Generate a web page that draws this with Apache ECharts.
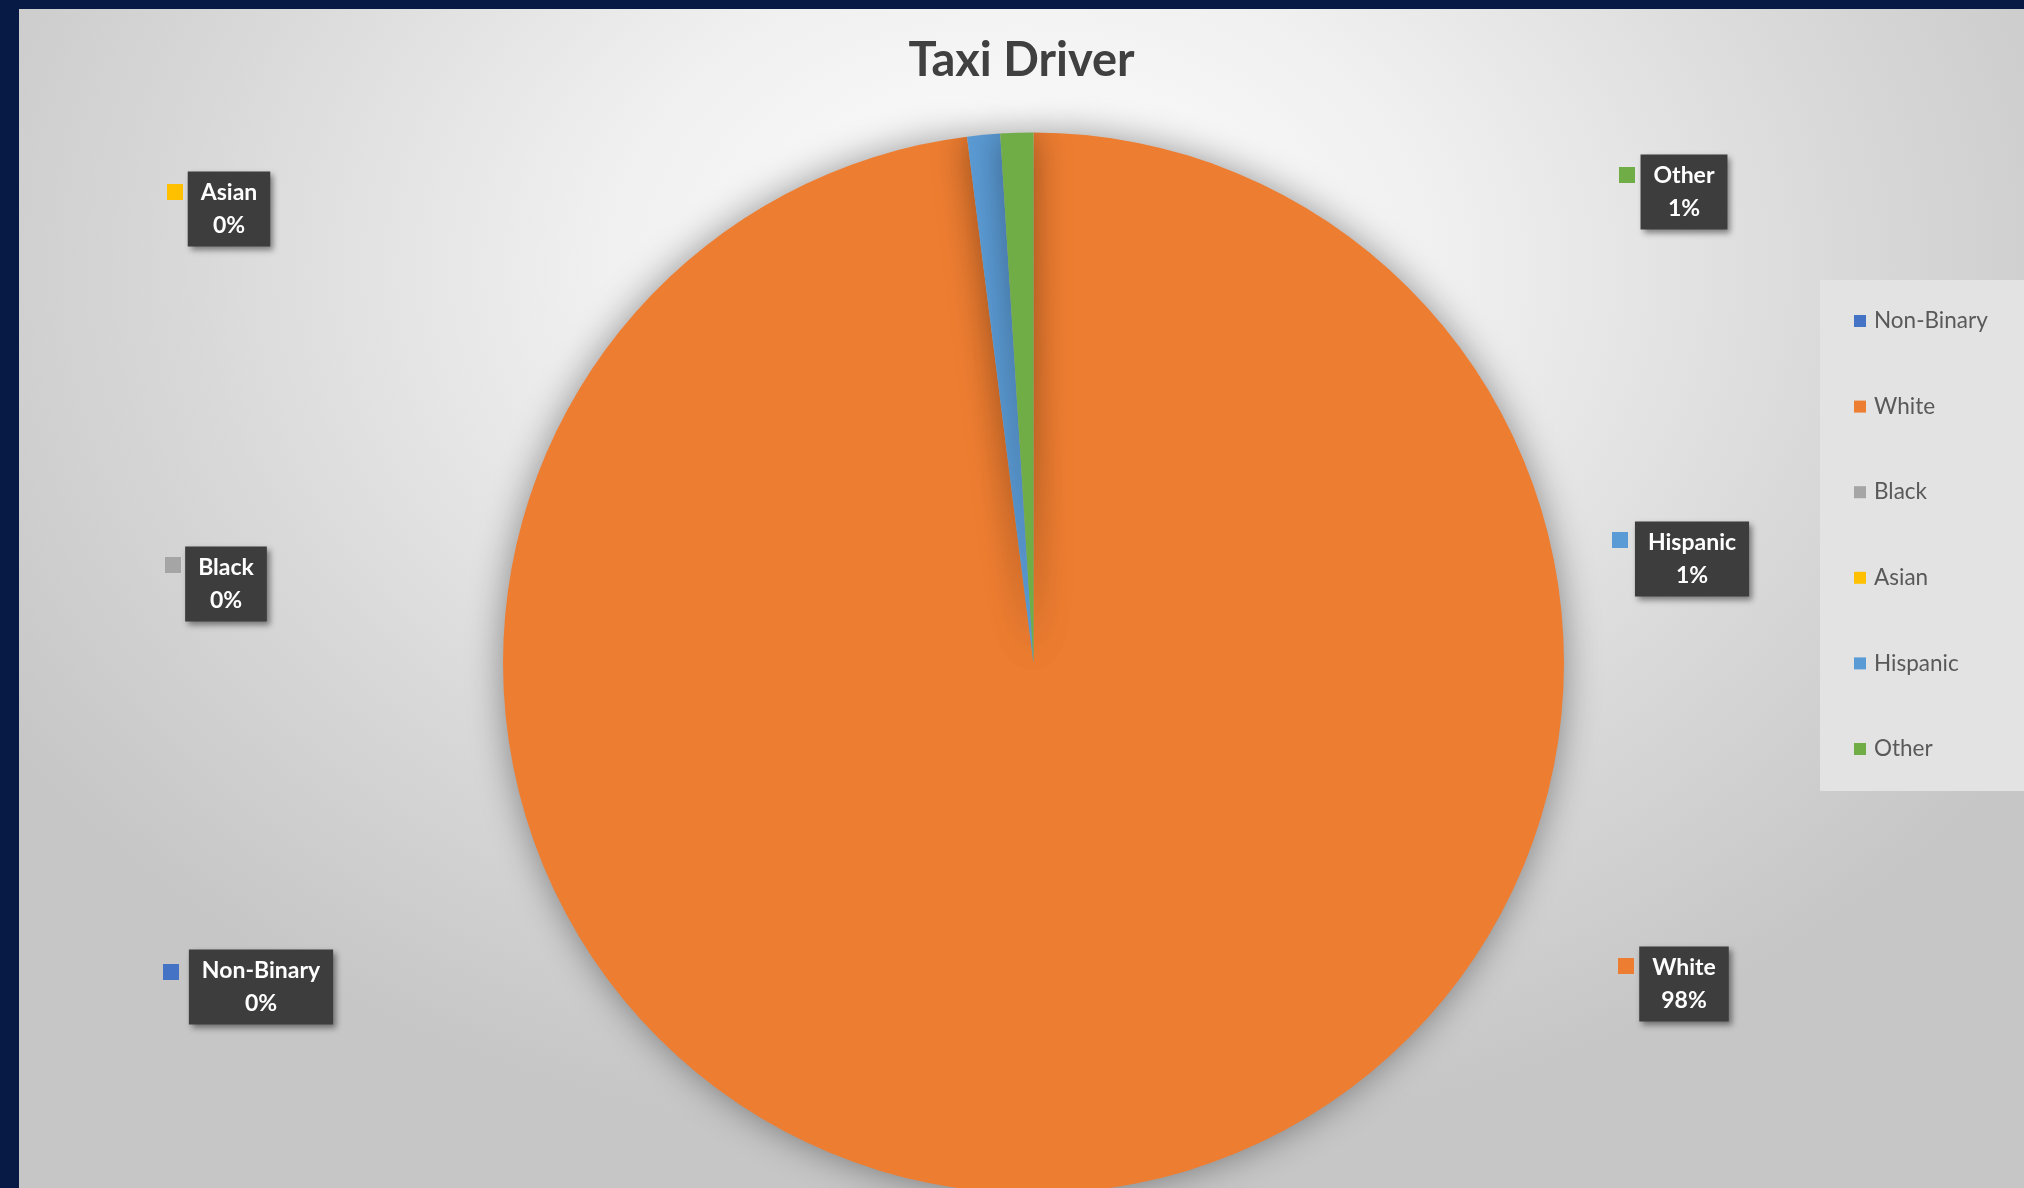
<!DOCTYPE html>
<html>
<head>
<meta charset="utf-8">
<script src="https://cdn.jsdelivr.net/npm/echarts@6/dist/echarts.min.js"></script>
<style>
  html, body { margin: 0; padding: 0; background: #071a45; }
  #chart {
    position: absolute; left: 19px; top: 9px; width: 2005px; height: 1179px;
    background: radial-gradient(ellipse 60% 75% at 50% 22%, #ffffff 0%, #f0f0f0 35%, #d8d8d8 70%, #c6c6c6 100%);
  }
</style>
</head>
<body>
<div id="chart"></div>
<script>
// data
const categories = ['Non-Binary', 'White', 'Black', 'Asian', 'Hispanic', 'Other'];
const values = [0, 98, 0, 0, 1, 1];
const palette = ['#4472C4', '#ED7D31', '#A5A5A5', '#FFC000', '#5B9BD5', '#70AD47'];

// label box centres and the little colour keys next to them (chart px)
const boxPos = [[242, 978], [1665, 975], [207, 575], [210, 200], [1673, 550], [1665, 183]];
const keyPos = [[152, 963], [1607, 957], [154, 556], [156, 183], [1601, 531], [1608, 166]];

const chart = echarts.init(document.getElementById('chart'));

const pieData = categories.map((name, i) => ({name, value: values[i]}));
const keyRich = {};
palette.forEach((c, i) => { keyRich['k' + i] = {width: 16, height: 16, backgroundColor: c}; });

chart.setOption({
  animation: false,
  color: palette,
  title: {
    text: 'Taxi Driver',
    left: 'center',
    top: 23,
    textStyle: {fontFamily: 'Lato', fontWeight: 'bold', fontSize: 47, color: '#404040'}
  },
  legend: {
    orient: 'vertical',
    left: 1801,
    top: 271,
    padding: [29, 44, 30, 34],
    backgroundColor: '#e3e3e3',
    itemWidth: 12,
    itemHeight: 12,
    itemGap: 61.6,
    icon: 'rect',
    data: categories,
    textStyle: {fontFamily: 'Lato', fontSize: 22.5, color: '#595959', lineHeight: 24, padding: [0, 0, 0, 3]}
  },
  series: [
    {
      type: 'pie',
      center: [1014.5, 654],
      radius: 530.5,
      startAngle: 90,
      clockwise: true,
      percentPrecision: 0,
      z: 3,
      data: pieData,
      itemStyle: {borderWidth: 0, shadowBlur: 36, shadowColor: 'rgba(0,0,0,0.4)'},
      emphasis: {disabled: true},
      labelLine: {show: false},
      label: {
        show: true,
        position: 'outside',
        formatter: '{b}\n{d}%',
        fontFamily: 'Lato',
        fontWeight: 'bold',
        fontSize: 23,
        lineHeight: 33,
        color: '#ffffff',
        align: 'center',
        backgroundColor: '#3d3d3d',
        padding: [5, 13, 4, 13],
        shadowColor: 'rgba(0,0,0,0.45)',
        shadowBlur: 6,
        shadowOffsetX: 3,
        shadowOffsetY: 3
      },
      labelLayout: p => ({x: boxPos[p.dataIndex][0], y: boxPos[p.dataIndex][1], align: 'center', verticalAlign: 'middle'})
    },
    {
      // colour keys beside the data labels
      type: 'pie',
      center: [1014.5, 654],
      radius: 530.5,
      startAngle: 90,
      clockwise: true,
      z: 1,
      silent: true,
      data: pieData,
      itemStyle: {color: 'transparent'},
      emphasis: {disabled: true},
      labelLine: {show: false},
      label: {
        show: true,
        position: 'outside',
        formatter: p => '{k' + p.dataIndex + '|}',
        rich: keyRich
      },
      labelLayout: p => ({x: keyPos[p.dataIndex][0], y: keyPos[p.dataIndex][1], align: 'center', verticalAlign: 'middle'})
    }
  ]
});
</script>
</body>
</html>
